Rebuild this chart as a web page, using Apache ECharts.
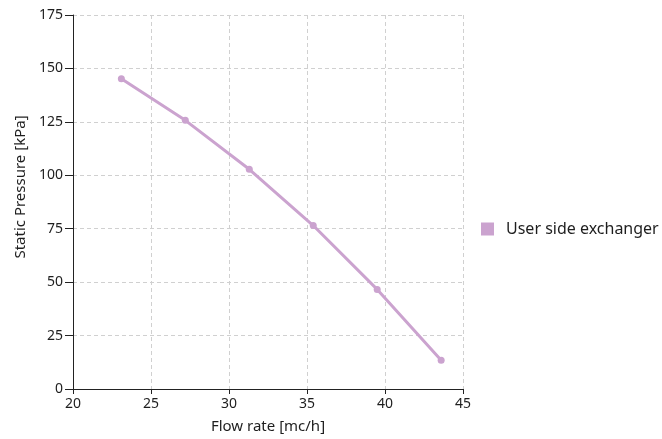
<!DOCTYPE html>
<html>
<head>
<meta charset="utf-8">
<script src="https://cdn.jsdelivr.net/npm/echarts@6/dist/echarts.min.js"></script>
<style>
	html, body { margin: 0; padding: 0; background: #fff; }
	#chart { width: 662px; height: 439px; }
</style>
</head>
<body>
<div id="chart"></div>
<script>
"use strict";

/*-----data-----*/
var seriesName = 'User side exchanger';
var flowRate = [23.1, 27.2, 31.3, 35.4, 39.5, 43.6];
var pressure = [145.2, 125.7, 102.8, 76.5, 46.6, 13.5];
var xTicks = [20, 25, 30, 35, 40, 45];
var yTicks = [0, 25, 50, 75, 100, 125, 150, 175];

var points = flowRate.map(function (x, i) { return [x, pressure[i]]; });

var chart = document.getElementById('chart');
var lineChart = echarts.init(chart);
var option = {
	animation: false,
	textStyle: {
		fontFamily: 'Noto Sans'
	},
	grid: {
		top: 15,
		right: 199,
		bottom: 50,
		left: 73
	},
	legend: {
		data: [{ name: seriesName, icon: 'rect' }],
		orient: 'vertical',
		left: 476,
		top: 216,
		itemWidth: 13,
		itemHeight: 13,
		textStyle: {
			fontSize: 16,
			color: '#1e1e1e',
			fontFamily: 'Noto Sans',
			padding: [0, 0, 0, 7]
		}
	},
	xAxis: {
		type: 'value',
		min: xTicks[0],
		max: xTicks[xTicks.length - 1],
		interval: 5,
		name: 'Flow rate [mc/h]',
		nameLocation: 'middle',
		nameGap: 30,
		nameTextStyle: { fontSize: 15, color: '#1e1e1e' },
		axisLine: { onZero: false, lineStyle: { color: '#222', width: 1 } },
		axisTick: { show: true, length: 5, lineStyle: { color: '#222' } },
		axisLabel: { fontSize: 14, color: '#1e1e1e', margin: 8 },
		splitLine: {
			show: true,
			lineStyle: { color: '#d0d0d0', type: [4, 3] }
		}
	},
	yAxis: {
		type: 'value',
		min: yTicks[0],
		max: yTicks[yTicks.length - 1],
		interval: 25,
		name: 'Static Pressure [kPa]',
		nameLocation: 'middle',
		nameGap: 43,
		nameTextStyle: { fontSize: 15, color: '#1e1e1e', padding: [0, 0, 0, 30] },
		axisLine: { show: true, onZero: false, lineStyle: { color: '#222', width: 1 } },
		axisTick: { show: true, length: 8, lineStyle: { color: '#222' } },
		axisLabel: { fontSize: 14, color: '#1e1e1e', margin: 10 },
		splitLine: {
			show: true,
			lineStyle: { color: '#d0d0d0', type: [4, 3] }
		}
	},
	series: [{
		name: seriesName,
		type: 'line',
		data: points,
		symbol: 'circle',
		symbolSize: 7,
		showSymbol: true,
		lineStyle: { width: 3, color: '#cba3cf' },
		itemStyle: { color: '#cba3cf' }
	}],
	color: ['#cba3cf']
};
lineChart.setOption(option);
window.addEventListener('resize', function () {
	lineChart.resize();
});
</script>
</body>
</html>
